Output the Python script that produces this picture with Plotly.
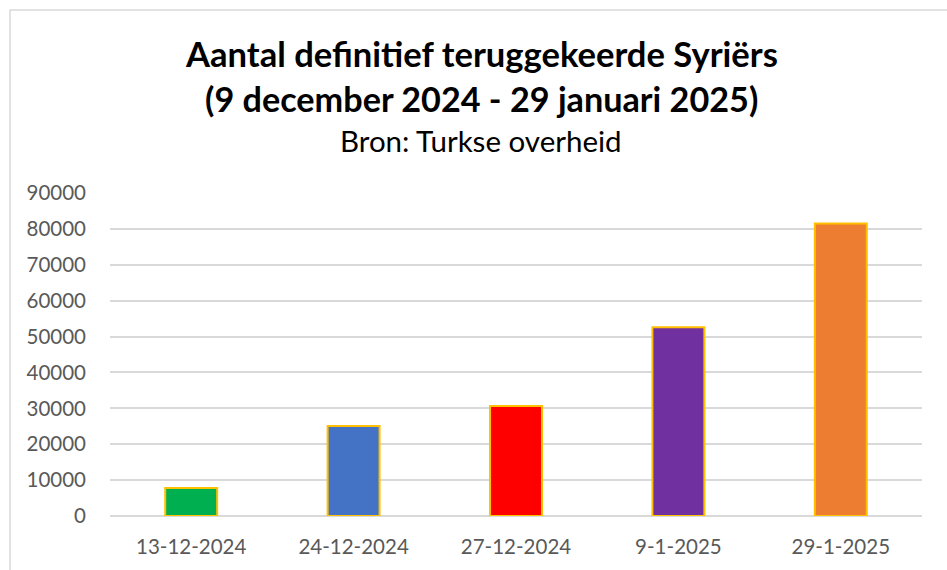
import plotly.graph_objects as go

categories = ["13-12-2024", "24-12-2024", "27-12-2024", "9-1-2025", "29-1-2025"]
values = [7800, 25050, 30650, 52600, 81500]
bar_colors = ["#00B050", "#4472C4", "#FF0000", "#7030A0", "#ED7D31"]
tick_vals = [0, 10000, 20000, 30000, 40000, 50000, 60000, 70000, 80000, 90000]

W, H = 947, 570
ml, mr, mt, mb = 110, 25, 193, 54

fig = go.Figure(go.Bar(
    x=categories, y=values,
    marker=dict(color=bar_colors, line=dict(color="#FFC000", width=2)),
    width=0.32,
))

pw = W - ml - mr
ph = H - mt - mb
def px(x):
    return (x - ml) / pw
def py(y):
    return (H - mb - y) / ph

fig.update_layout(
    width=W, height=H,
    margin=dict(l=ml, r=mr, t=mt, b=mb),
    paper_bgcolor="white", plot_bgcolor="white",
    showlegend=False,
    font=dict(family="Lato", color="#595959"),
    xaxis=dict(showgrid=False, showline=False, ticks="", ticklabelstandoff=16,
               tickfont=dict(size=20.5, color="#595959")),
    yaxis=dict(range=[0, 90000], tickvals=tick_vals, ticktext=[str(v) for v in tick_vals],
               showgrid=True, gridcolor="#D9D9D9", gridwidth=1.5, zeroline=True,
               zerolinecolor="#D9D9D9", zerolinewidth=1.5,
               showline=False, ticks="", ticklabelstandoff=23,
               tickfont=dict(size=20.5, color="#595959")),
    shapes=[dict(type="rect", xref="paper", yref="paper",
                 x0=px(10), x1=px(W + 20), y0=py(H + 20), y1=py(10),
                 line=dict(color="#D9D9D9", width=1.5), fillcolor="rgba(0,0,0,0)", layer="below")],
    annotations=[
        dict(text="<b>Aantal definitief teruggekeerde Syriërs</b>", xref="paper", yref="paper",
             x=px(481), y=py(54), showarrow=False, font=dict(size=34.6, color="black", family="Lato"),
             xanchor="center", yanchor="middle"),
        dict(text="<b>(9 december 2024 - 29 januari 2025)</b>", xref="paper", yref="paper",
             x=px(481), y=py(99), showarrow=False, font=dict(size=34.2, color="black", family="Lato"),
             xanchor="center", yanchor="middle"),
        dict(text="Bron: Turkse overheid", xref="paper", yref="paper",
             x=px(481), y=py(141), showarrow=False, font=dict(size=29.5, color="black", family="Lato"),
             xanchor="center", yanchor="middle"),
    ],
)

fig.write_html("out.html", config={"displayModeBar": False},
               post_script="document.body.style.margin='0';")
